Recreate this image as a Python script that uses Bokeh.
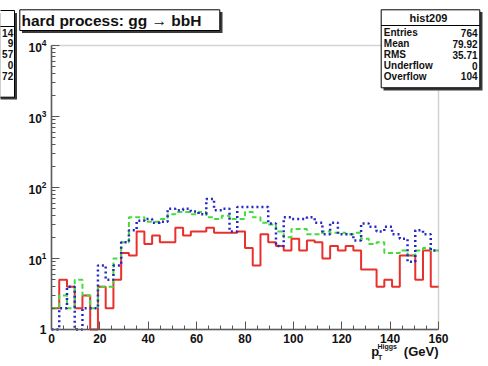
import numpy as np
from bokeh.plotting import figure
from bokeh.models import (Range1d, FixedTicker, LogTickFormatter, LinearAxis, LogAxis,
                          Label, BoxAnnotation)
from bokeh.embed import file_html
from bokeh.resources import INLINE

# ---------------- data ----------------
bin_width = 3.2
n_bins = 50
red_counts = [2, 5, 4, 2, 3, 0, 4, 2, 5, 12,
              11, 24, 16, 21, 17, 17, 27, 21, 24, 24,
              27, 23, 23, 23, 24, 14, 8, 22, 17, 15,
              13, 19, 13, 18, 17, 10, 15, 13, 15, 13,
              7, 7, 4, 5, 4, 11, 11, 5, 13, 4]
green_counts = [2, 3, 2, 5, 3, 2, 4, 4, 10, 17,
                38, 38, 33, 33, 36, 42, 45, 45, 42, 45,
                38, 36, 40, 36, 36, 45, 38, 32, 30, 24,
                20, 26, 26, 22, 22, 24, 23, 23, 22, 23,
                19, 16, 17, 12, 12, 13, 11, 13, 14, 13]
blue_counts = [1, 2, 4, 1, 2, 2, 8, 5, 8, 17,
               25, 34, 36, 32, 33, 50, 48, 50, 46, 42,
               69, 48, 50, 24, 53, 53, 53, 53, 31, 15,
               38, 36, 36, 38, 32, 22, 32, 22, 22, 18,
               31, 28, 24, 28, 22, 19, 9, 25, 22, 13]
x_ticks = [0, 20, 40, 60, 80, 100, 120, 140, 160]
x_minor_step = 5
y_ticks = [1, 10, 100, 1000, 10000]
title_text = "hard process:  gg \u2192 bbH"
stats_name = "hist209"
stats_labels = ["Entries", "Mean", "RMS", "Underflow", "Overflow"]
stats_values = ["764", "79.92", "35.71", "0", "104"]
left_stats_values = ["14", "9", "57", "0", "72"]   # neighbouring, cut-off stats box

FONT = "Liberation Sans"

# ---------------- layout (pixels) ----------------
W, H = 488, 366
FL, FR, FT, FB = 51, 438, 45, 329          # inner ROOT frame
x0, x1 = x_ticks[0], x_ticks[-1]
y0, y1 = y_ticks[0], y_ticks[-1]
px_per_x = (FR - FL) / (x1 - x0)
px_per_dec = (FB - FT) / (np.log10(y1) - np.log10(y0))
xr = Range1d(x0 - FL / px_per_x, x1 + (W - FR) / px_per_x)
yr = Range1d(10 ** (np.log10(y0) - (H - FB) / px_per_dec),
             10 ** (np.log10(y1) + FT / px_per_dec))

p = figure(width=W, height=H, output_backend="svg", toolbar_location=None,
           y_axis_type="log", x_range=xr, y_range=yr,
           x_axis_location=None, y_axis_location=None,
           min_border=0, min_border_left=0, min_border_right=0,
           min_border_top=0, min_border_bottom=0,
           background_fill_color="white", border_fill_color="white")
p.grid.visible = False
p.outline_line_color = None

edges = np.arange(n_bins + 1) * bin_width

def step_y(counts):
    c = np.array(counts, dtype=float)
    c = np.where(c > 0, c, y0)  # empty bins drawn down to the axis floor
    return np.append(c, c[-1])

p.step(edges, step_y(red_counts), mode="after", line_color="#e8302c", line_width=2)
p.step(edges, step_y(green_counts), mode="after", line_color="#44dc3c", line_width=2,
       line_dash="5 3")
p.step(edges, step_y(blue_counts), mode="after", line_color="#2626c4", line_width=2.5,
       line_dash="2 3")

# inner frame (top / right sides)
p.add_layout(BoxAnnotation(left=x0, right=x1, bottom=y0, top=y1, fill_alpha=0,
                           line_color="#6a6a6a", line_width=1.5))

# axes drawn at fixed data locations
x_minor = [v for v in np.arange(x0, x1 + 0.01, x_minor_step) if v not in x_ticks]
xa = LinearAxis(fixed_location=y0, bounds=(x0, x1),
                ticker=FixedTicker(ticks=x_ticks, minor_ticks=x_minor))
y_minor = [k * d for d in y_ticks[:-1] for k in range(2, 10)]
ya = LogAxis(fixed_location=x0, bounds=(y0, y1),
             ticker=FixedTicker(ticks=y_ticks, minor_ticks=y_minor),
             formatter=LogTickFormatter(min_exponent=1))
for ax in (xa, ya):
    ax.axis_line_color = "#555555"
    ax.axis_line_width = 1.5
    ax.major_tick_line_color = "#555555"
    ax.minor_tick_line_color = "#555555"
    ax.major_tick_in = 8
    ax.major_tick_out = 0
    ax.minor_tick_in = 4
    ax.minor_tick_out = 0
    ax.major_label_text_font = FONT
    ax.major_label_text_font_style = "bold"
    ax.major_label_text_font_size = "12px"
    ax.major_label_text_color = "#111111"
xa.major_label_standoff = 4
ya.major_label_standoff = 5
p.add_layout(xa, "below")
p.add_layout(ya, "left")

def cbox(l, r, t, b, fill="white", line="black", lw=1, fa=1.0, la=1.0):
    p.add_layout(BoxAnnotation(left=l, right=r, top=t, bottom=b,
                               left_units="canvas", right_units="canvas",
                               top_units="canvas", bottom_units="canvas",
                               fill_color=fill, fill_alpha=fa, line_color=line,
                               line_width=lw, line_alpha=la))

def clabel(x, y, text, size, align="left"):
    p.add_layout(Label(x=x, y=y, x_units="canvas", y_units="canvas", text=text,
                       text_font=FONT, text_font_style="bold", text_font_size=size,
                       text_align=align, text_baseline="middle", text_color="#111111"))

# left (cut-off) stats box
cbox(-30, 16.5, 12.5, 99, fill="#3a3a3a", line="#3a3a3a", lw=0)
cbox(-30, 14, 10, 96.7)
cbox(-30, 14, 25.5, 26.5, fill="black", lw=0, la=0)
for i, v in enumerate(left_stats_values):
    clabel(12.7, 32 + 10.9 * i, v, "10px", align="right")

# title box
cbox(21.5, 222, 11.5, 32.5, fill="#3a3a3a", line="#3a3a3a", lw=0)
cbox(19.3, 219.3, 9.3, 30)
clabel(21, 19.5, title_text, "15.5px")

# stats box
cbox(383, 482, 11.5, 90, fill="#3a3a3a", line="#3a3a3a", lw=0)
cbox(380.7, 479.3, 9.3, 87.3)
cbox(380.7, 479.3, 24.5, 25.5, fill="black", lw=0, la=0)
clabel(428, 17, stats_name, "11px", align="center")
for i, (lab, val) in enumerate(zip(stats_labels, stats_values)):
    y = 32.3 + 10.9 * i
    clabel(383.3, y, lab, "10px")
    clabel(477, y, val, "10px", align="right")

# x axis title: p_T^Higgs (GeV)
clabel(370.7, 351.0, "p", "13px")
clabel(377.5, 356.5, "T", "7px")
clabel(377.0, 346.0, "Higgs", "7px")
clabel(403.3, 351.0, "(GeV)", "13px")

open("out.html", "w").write(file_html(p, INLINE))
